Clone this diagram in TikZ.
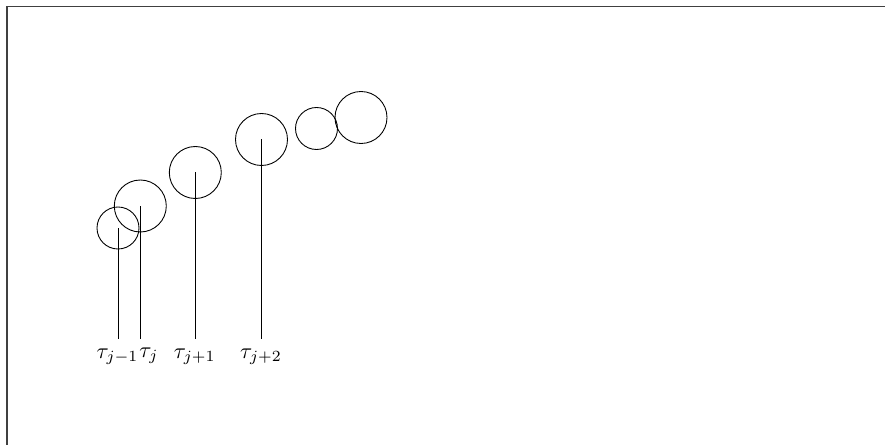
\documentclass[tikz,border=0pt]{standalone}
\begin{document}
\begin{tikzpicture}[x=0.45pt,y=-0.45pt,
  ring/.style={draw, line width=0.4pt},
  stem/.style={draw, line width=0.4pt},
  lbl/.style={inner sep=0pt, anchor=center}]
\useasboundingbox (0,0) rectangle (885,445);
\draw[line width=0.6pt, black!75] (7,445) coordinate (fl) -- (7,6.5) coordinate (fc) -- (885,6.5) coordinate (fr);
% circles
\draw[ring] (118,228) circle[radius=21];
\draw[ring] (140.3,206) circle[radius=26];
\draw[ring] (195.3,172.5) circle[radius=26];
\draw[ring] (261.5,139.5) circle[radius=26];
\draw[ring] (316.5,128.5) circle[radius=21];
\draw[ring] (361,117.5) circle[radius=26];
% stem coordinates
\coordinate (a1) at (118,228);   \coordinate (b1) at (118,338.5);
\coordinate (a2) at (140.3,206); \coordinate (b2) at (140.3,338.5);
\coordinate (a3) at (195.3,172.5); \coordinate (b3) at (195.3,338.5);
\coordinate (a4) at (261.5,139.5); \coordinate (b4) at (261.5,338.5);
\draw[stem] (a1) -- (b1);
\draw[stem] (a2) -- (b2);
\draw[stem] (a3) -- (b3);
\draw[stem] (a4) -- (b4);
% labels
\node[lbl] (t1) at (117.5,357) {$\tau_{j-1}$};
\node[lbl] (t2) at (149,356) {$\tau_j$};
\node[lbl] (t3) at (194.7,357) {$\tau_{j+1}$};
\node[lbl] (t4) at (261,357) {$\tau_{j+2}$};
\end{tikzpicture}
\end{document}
